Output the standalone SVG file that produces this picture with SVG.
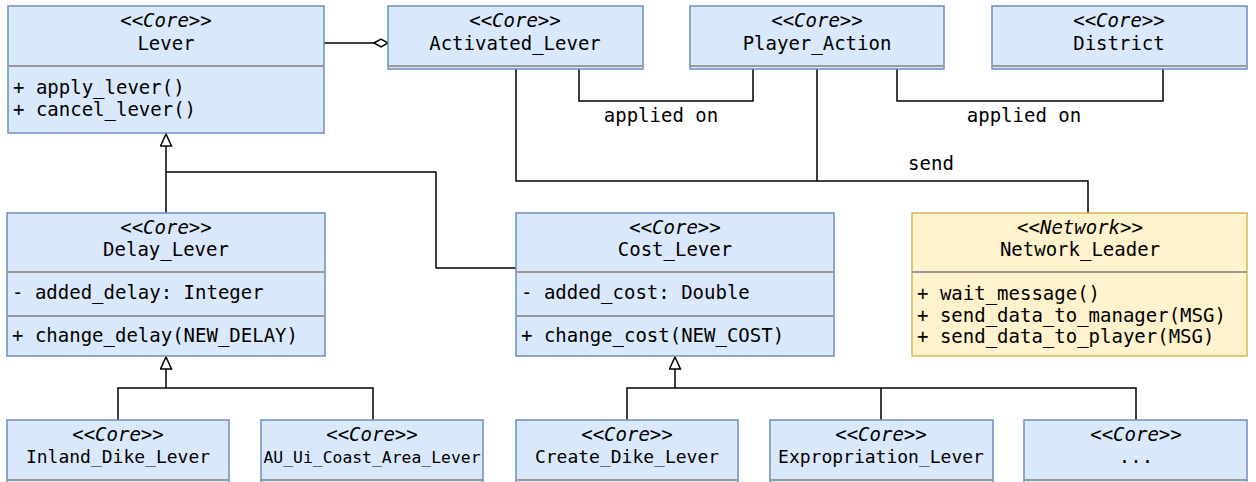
<svg xmlns="http://www.w3.org/2000/svg" width="1256" height="482" viewBox="0 0 1256 482">
<style>
.box{fill:#dae8fc;stroke:#6c8ebf;stroke-width:1.5}
.net{fill:#fff2cc;stroke:#d6b656;stroke-width:1.5}
.dv{stroke:#999999;stroke-width:2}
.t{font-family:"DejaVu Sans Mono",monospace;font-size:19px;fill:#000}
.st{font-style:italic;text-anchor:middle}
.c{text-anchor:middle}
.ln{fill:none;stroke:#000;stroke-width:1.5}
</style>
<defs>
<marker id="gen" markerWidth="14" markerHeight="14" refX="13" refY="6" orient="auto" markerUnits="userSpaceOnUse">
<path d="M1,0.5 L13,6 L1,11.5 Z" fill="#fff" stroke="#000" stroke-width="1.5"/>
</marker>
<marker id="agg" markerWidth="16" markerHeight="10" refX="15" refY="5" orient="auto" markerUnits="userSpaceOnUse">
<path d="M1,5 L8,1 L15,5 L8,9 Z" fill="#fff" stroke="#000" stroke-width="1.5"/>
</marker>
</defs>

<g id="connectors">
<path class="ln" d="M324,43 L388,43" marker-end="url(#agg)"/>
<path class="ln" d="M579,69 V101 H753 V69"/>
<text class="t c" x="661" y="122">applied on</text>
<path class="ln" d="M897,69 V101 H1163 V69"/>
<text class="t c" x="1024" y="122">applied on</text>
<path class="ln" d="M516,69 V181 H1088 V213"/>
<path class="ln" d="M817,69 V181"/>
<text class="t c" x="931" y="170">send</text>
<path class="ln" d="M166,213 V172 H436 V268 H516"/>
<path class="ln" d="M166,172 V134" marker-end="url(#gen)"/>
<path class="ln" d="M118,420 V388 H373 V420"/>
<path class="ln" d="M166,388 V357" marker-end="url(#gen)"/>
<path class="ln" d="M627,420 V388 H1136 V420"/>
<path class="ln" d="M881,388 V420"/>
<path class="ln" d="M675,388 V357" marker-end="url(#gen)"/>
</g>

<g id="lever">
<rect class="box" x="8" y="6" width="316" height="127"/>
<line class="dv" x1="8" y1="66" x2="324" y2="66"/>
<text class="t st" x="166" y="27">&lt;&lt;Core&gt;&gt;</text>
<text class="t c" x="166" y="50">Lever</text>
<text class="t" x="13" y="94">+ apply_lever()</text>
<text class="t" x="13" y="116">+ cancel_lever()</text>
</g>

<g id="activated_lever">
<rect class="box" x="388" y="6" width="255" height="63"/>
<line class="dv" x1="388" y1="66" x2="643" y2="66"/>
<text class="t st" x="515" y="27">&lt;&lt;Core&gt;&gt;</text>
<text class="t c" x="515" y="50">Activated_Lever</text>
</g>

<g id="player_action">
<rect class="box" x="690" y="6" width="254" height="63"/>
<line class="dv" x1="690" y1="66" x2="944" y2="66"/>
<text class="t st" x="817" y="27">&lt;&lt;Core&gt;&gt;</text>
<text class="t c" x="817" y="50">Player_Action</text>
</g>

<g id="district">
<rect class="box" x="992" y="6" width="255" height="63"/>
<line class="dv" x1="992" y1="66" x2="1247" y2="66"/>
<text class="t st" x="1119" y="27">&lt;&lt;Core&gt;&gt;</text>
<text class="t c" x="1119" y="50">District</text>
</g>

<g id="delay_lever">
<rect class="box" x="7" y="213" width="318" height="143"/>
<line class="dv" x1="7" y1="272" x2="325" y2="272"/>
<line class="dv" x1="7" y1="316" x2="325" y2="316"/>
<text class="t st" x="166" y="234">&lt;&lt;Core&gt;&gt;</text>
<text class="t c" x="166" y="256">Delay_Lever</text>
<text class="t" x="12" y="299">- added_delay: Integer</text>
<text class="t" x="12" y="342">+ change_delay(NEW_DELAY)</text>
</g>

<g id="cost_lever">
<rect class="box" x="516" y="213" width="318" height="143"/>
<line class="dv" x1="516" y1="272" x2="834" y2="272"/>
<line class="dv" x1="516" y1="316" x2="834" y2="316"/>
<text class="t st" x="675" y="234">&lt;&lt;Core&gt;&gt;</text>
<text class="t c" x="675" y="256">Cost_Lever</text>
<text class="t" x="521" y="299">- added_cost: Double</text>
<text class="t" x="521" y="342">+ change_cost(NEW_COST)</text>
</g>

<g id="network_leader">
<rect class="net" x="912" y="213" width="335" height="143"/>
<line class="dv" x1="912" y1="272" x2="1247" y2="272"/>
<text class="t st" x="1080" y="234">&lt;&lt;Network&gt;&gt;</text>
<text class="t c" x="1080" y="256">Network_Leader</text>
<text class="t" x="917" y="300">+ wait_message()</text>
<text class="t" x="917" y="322">+ send_data_to_manager(MSG)</text>
<text class="t" x="917" y="343">+ send_data_to_player(MSG)</text>
</g>

<g id="inland_dike_lever">
<rect class="box" x="7" y="420" width="222" height="80"/>
<line class="dv" x1="7" y1="480" x2="229" y2="480"/>
<text class="t st" x="118" y="441">&lt;&lt;Core&gt;&gt;</text>
<text class="t c" x="118" y="463" style="font-size:18px">Inland_Dike_Lever</text>
</g>

<g id="au_ui_coast_area_lever">
<rect class="box" x="261" y="420" width="222" height="80"/>
<line class="dv" x1="261" y1="480" x2="483" y2="480"/>
<text class="t st" x="372" y="441">&lt;&lt;Core&gt;&gt;</text>
<text class="t c" x="372" y="463" style="font-size:16.4px">AU_Ui_Coast_Area_Lever</text>
</g>

<g id="create_dike_lever">
<rect class="box" x="516" y="420" width="222" height="80"/>
<line class="dv" x1="516" y1="480" x2="738" y2="480"/>
<text class="t st" x="627" y="441">&lt;&lt;Core&gt;&gt;</text>
<text class="t c" x="627" y="463" style="font-size:18px">Create_Dike_Lever</text>
</g>

<g id="expropriation_lever">
<rect class="box" x="770" y="420" width="223" height="80"/>
<line class="dv" x1="770" y1="480" x2="993" y2="480"/>
<text class="t st" x="881" y="441">&lt;&lt;Core&gt;&gt;</text>
<text class="t c" x="881" y="463" style="font-size:18px">Expropriation_Lever</text>
</g>

<g id="more_levers">
<rect class="box" x="1024" y="420" width="223" height="80"/>
<line class="dv" x1="1024" y1="480" x2="1247" y2="480"/>
<text class="t st" x="1136" y="441">&lt;&lt;Core&gt;&gt;</text>
<text class="t c" x="1136" y="463">...</text>
</g>
</svg>
